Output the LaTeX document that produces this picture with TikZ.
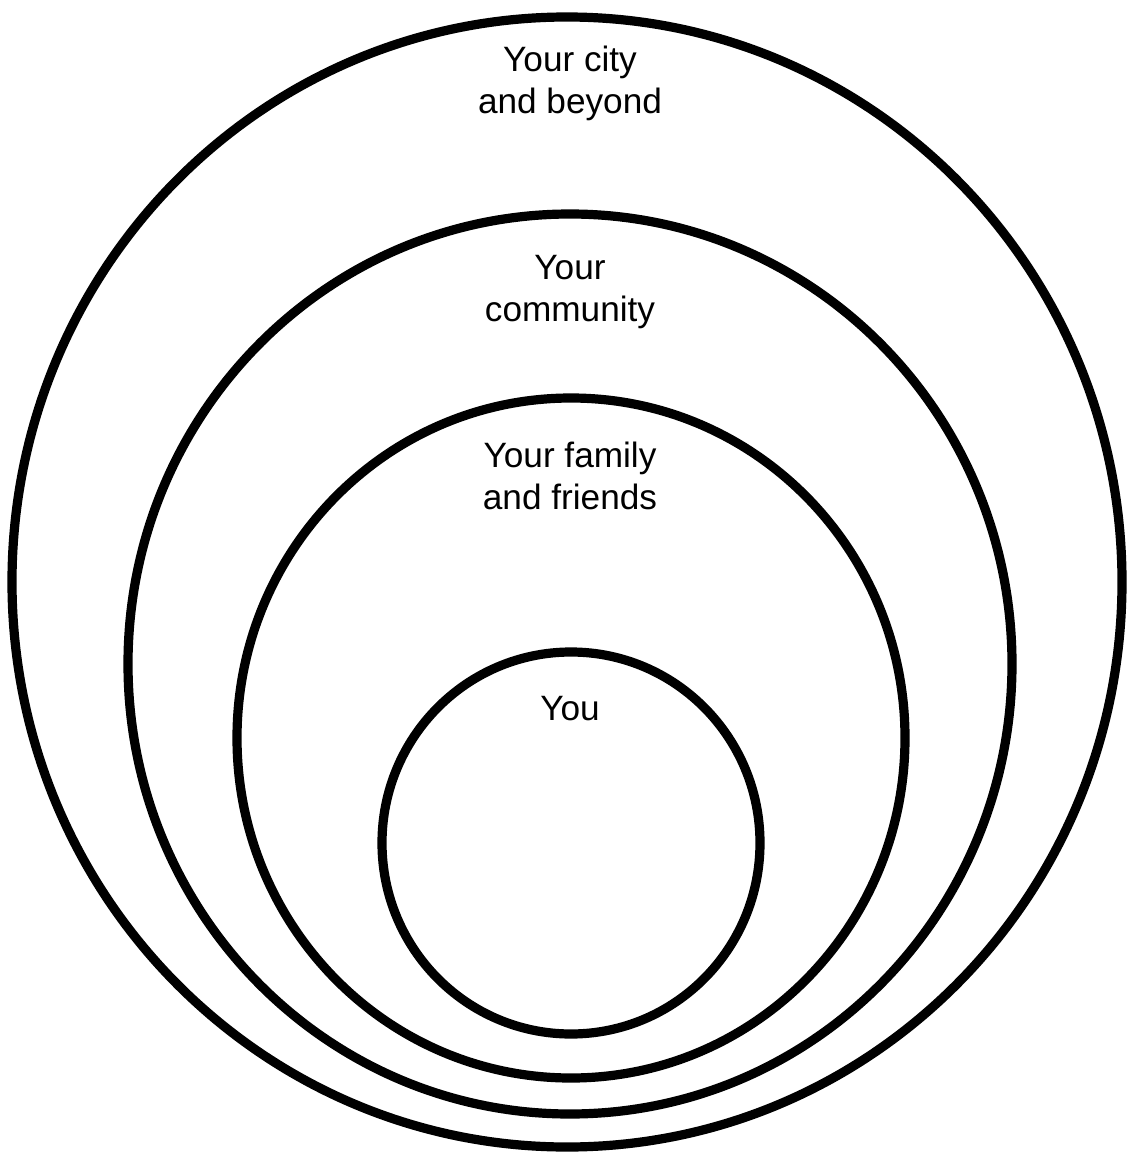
\documentclass[tikz,border=0pt]{standalone}
\usepackage{fontspec}
\setmainfont{Liberation Sans}
\usepackage{tikz}

\begin{document}
\begin{tikzpicture}[
  x=0.5pt, y=-0.5pt,
  ring/.style={draw=black, line width=4.6pt},
  label/.style={align=center, inner sep=0pt,
               font=\fontsize{17.6pt}{21pt}\selectfont}
]
\useasboundingbox (0,0) rectangle (1127,1156);

% rings, outer to inner
\draw[ring] (567,582) ellipse [x radius=555, y radius=565];
\draw[ring] (570,664) ellipse [x radius=442, y radius=450];
\draw[ring] (571,738) ellipse [x radius=334, y radius=340];
\draw[ring] (571,843) ellipse [x radius=189, y radius=191];

\node[label] (city) at (570,83) {Your city\\and beyond};
\node[label] (community) at (570,292) {Your\\community};
\node[label] (family) at (570,476) {Your family\\and friends};
\node[label] (you) at (570,709) {You};

\end{tikzpicture}
\end{document}
